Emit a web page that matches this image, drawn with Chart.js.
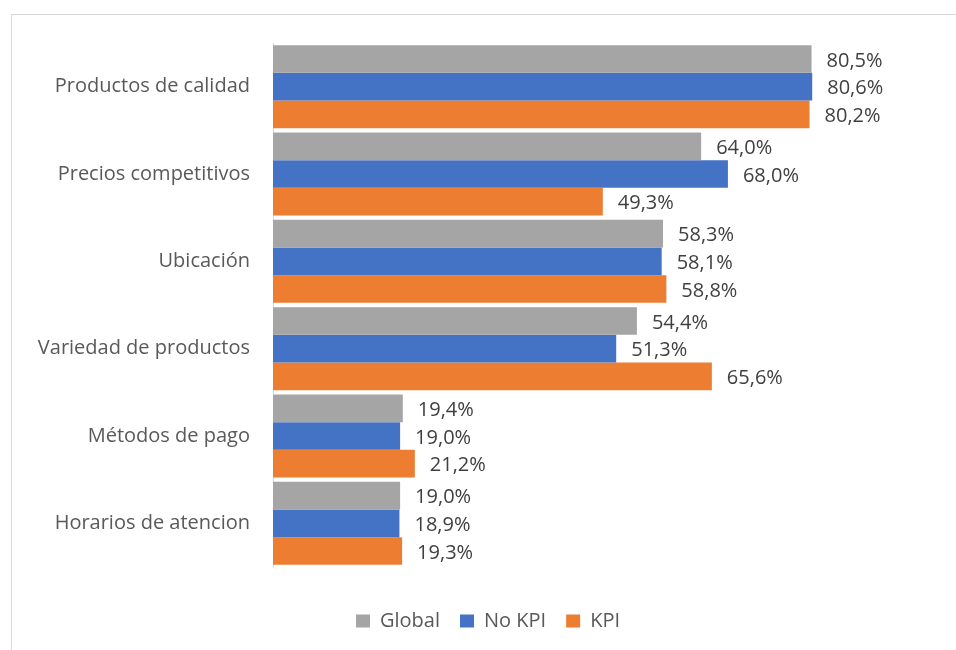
<!DOCTYPE html>
<html>
<head>
<meta charset="utf-8">
<script src="https://cdn.jsdelivr.net/npm/chart.js@4/dist/chart.umd.min.js"></script>
<style>
  html, body { margin: 0; padding: 0; background: #fff; }
  #wrap { position: relative; width: 956px; height: 650px; overflow: hidden; }
  #frame { position: absolute; left: 11px; top: 14px; width: 1000px; height: 700px;
           border-top: 1px solid #d9d9d9; border-left: 1px solid #d9d9d9; }
  canvas { position: absolute; left: 0; top: 0; }
</style>
</head>
<body>
<div id="wrap">
  <div id="frame"></div>
  <canvas id="chart" width="956" height="650"></canvas>
</div>
<script>
// ---- data ----
const categories = [
  'Productos de calidad',
  'Precios competitivos',
  'Ubicación',
  'Variedad de productos',
  'Métodos de pago',
  'Horarios de atencion'
];
const globalVals = [80.5, 64.0, 58.3, 54.4, 19.4, 19.0];
const noKpiVals  = [80.6, 68.0, 58.1, 51.3, 19.0, 18.9];
const kpiVals    = [80.2, 49.3, 58.8, 65.6, 21.2, 19.3];

const FONT = "'Open Sans', sans-serif";
const TEXT = '#595959';
const PAD_LEFT = 34;

// value labels at the end of each bar
const barLabels = {
  id: 'barLabels',
  afterDatasetsDraw(chart) {
    const ctx = chart.ctx;
    ctx.save();
    ctx.font = `20px ${FONT}`;
    ctx.fillStyle = '#404040';
    ctx.textAlign = 'left';
    ctx.textBaseline = 'middle';
    chart.data.datasets.forEach((ds, i) => {
      chart.getDatasetMeta(i).data.forEach((bar, j) => {
        const txt = ds.data[j].toFixed(1).replace('.', ',') + '%';
        ctx.fillText(txt, bar.x + 15, bar.y + 2);
      });
    });
    ctx.restore();
  }
};

new Chart(document.getElementById('chart'), {
  type: 'bar',
  data: {
    labels: categories,
    datasets: [
      { label: 'Global', data: globalVals, backgroundColor: '#a5a5a5' },
      { label: 'No KPI', data: noKpiVals, backgroundColor: '#4472c4' },
      { label: 'KPI',    data: kpiVals,   backgroundColor: '#ed7d31' }
    ]
  },
  options: {
    indexAxis: 'y',
    responsive: false,
    animation: false,
    categoryPercentage: 0.95,
    barPercentage: 1.0,
    layout: { padding: { top: 43, right: 14, bottom: 9, left: PAD_LEFT } },
    scales: {
      x: {
        min: 0, max: 100,
        grid: { display: false },
        border: { display: false },
        ticks: { display: false },
        afterFit: s => { s.height = 24; }
      },
      y: {
        grid: { display: false },
        border: { display: true, color: '#d9d9d9', width: 1 },
        ticks: { color: TEXT, font: { family: FONT, size: 20 }, padding: 15 },
        afterFit: s => { s.width = 273 - PAD_LEFT; }
      }
    },
    plugins: {
      legend: {
        position: 'bottom',
        labels: {
          color: TEXT,
          font: { family: FONT, size: 20 },
          boxWidth: 14, boxHeight: 13,
          padding: 20
        }
      },
      tooltip: { enabled: false }
    }
  },
  plugins: [barLabels]
});
</script>
</body>
</html>
